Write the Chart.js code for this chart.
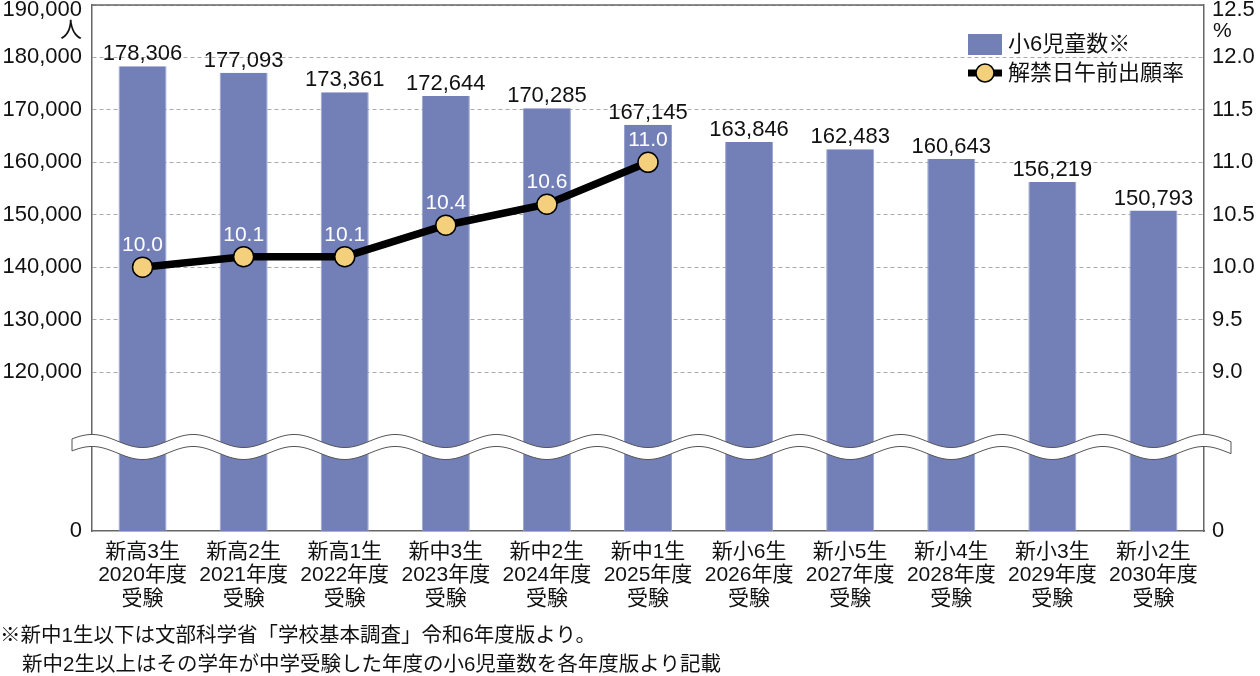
<!DOCTYPE html>
<html lang="ja">
<head>
<meta charset="UTF-8">
<title>小6児童数と解禁日午前出願率</title>
<script src="https://cdn.jsdelivr.net/npm/chart.js"></script>
<style>
  html, body { margin: 0; padding: 0; background: #fff; }
  body { width: 1260px; height: 676px; position: relative; overflow: hidden;
         font-family: 'Liberation Sans', 'Noto Sans CJK JP', sans-serif; color: #111; }
  #wrap { position: absolute; left: 0; top: 0; width: 1260px; height: 676px; }
  .abs { position: absolute; white-space: nowrap; line-height: 1; }
</style>
</head>
<body>
<div id="wrap"><canvas id="myChart" width="1260" height="676"></canvas></div>

<!-- 単位 -->
<div class="abs" style="right:1178px; top:19px; font-size:22px;">人</div>
<div class="abs" style="left:1213px; top:19px; font-size:21px;">%</div>

<!-- 凡例 -->
<div class="abs" style="left:968px; top:34px; width:34px; height:21px; background:#7380b8;"></div>
<div class="abs" style="left:1008px; top:33px; font-size:22px;">小6児童数※</div>
<svg class="abs" style="left:966px; top:62px;" width="40" height="22">
  <line x1="2" y1="11" x2="36" y2="11" stroke="#000" stroke-width="7"/>
  <circle cx="19" cy="11" r="9" fill="#f4d07c" stroke="#000" stroke-width="1.5"/>
</svg>
<div class="abs" style="left:1008px; top:62px; font-size:22px;">解禁日午前出願率</div>

<!-- 注記 -->
<div class="abs" style="left:0; top:625px; font-size:20.5px;">※新中1生以下は文部科学省「学校基本調査」令和6年度版より。</div>
<div class="abs" style="left:22px; top:654px; font-size:20.5px;">新中2生以上はその学年が中学受験した年度の小6児童数を各年度版より記載</div>

<script>
// データ
const grades = ['新高3生', '新高2生', '新高1生', '新中3生', '新中2生', '新中1生', '新小6生', '新小5生', '新小4生', '新小3生', '新小2生'];
const years = [2020, 2021, 2022, 2023, 2024, 2025, 2026, 2027, 2028, 2029, 2030];
const children = [178306, 177093, 173361, 172644, 170285, 167145, 163846, 162483, 160643, 156219, 150793];
const rate = [10.0, 10.1, 10.1, 10.4, 10.6, 11.0, null, null, null, null, null];
const leftTicks = [120000, 130000, 140000, 150000, 160000, 170000, 180000, 190000];
const rightTicks = [9.0, 9.5, 10.0, 10.5, 11.0, 11.5, 12.0, 12.5];

// 軸の省略(0〜約9万を詰める)
const leftMin = 89674, leftMax = 190000;
const rightMin = 7.484, rightMax = 12.5;

const FONT = "'Liberation Sans', 'Noto Sans CJK JP', sans-serif";
const labels = grades.map((g, i) => [g, years[i] + '年度', '受験']);

// 一番上の目盛ラベルが切れないよう少し下げる
const topLabelPlugin = {
  id: 'topLabel',
  beforeDraw(chart) {
    ['y', 'y1'].forEach(id => {
      const items = chart.scales[id].getLabelItems(chart.chartArea);
      items.forEach(it => {
        const t = it.options.translation;
        if (t[1] < 10) t[1] = 10;
      });
    });
  }
};

// 波線(省略記号)
const wavePlugin = {
  id: 'wave',
  beforeDatasetsDraw(chart) {
    const { ctx, chartArea } = chart;
    ctx.save();
    ctx.strokeStyle = '#666';
    ctx.lineWidth = 1.5;
    ctx.beginPath();
    ctx.moveTo(chartArea.left, chartArea.top);
    ctx.lineTo(chartArea.right, chartArea.top);
    ctx.stroke();
    ctx.restore();
  },
  afterDatasetsDraw(chart) {
    const { ctx, scales: { x } } = chart;
    const x0 = x.getPixelForValue(0);
    const step = x.getPixelForValue(1) - x0;
    const left = 72, right = 1231, mid = 441, amp = 6.5, gap = 12;
    const wy = (px, off) => mid + off + amp * Math.cos(2 * Math.PI * (px - x0) / step);
    ctx.save();
    ctx.beginPath();
    for (let px = left; px <= right; px++) {
      const y = wy(px, 0);
      if (px === left) ctx.moveTo(px, y); else ctx.lineTo(px, y);
    }
    for (let px = right; px >= left; px--) ctx.lineTo(px, wy(px, gap));
    ctx.closePath();
    ctx.fillStyle = '#fff';
    ctx.fill();
    ctx.strokeStyle = '#555';
    ctx.lineWidth = 1;
    ctx.stroke();
    ctx.restore();
  }
};

// 数値ラベル
const labelPlugin = {
  id: 'valueLabels',
  afterDatasetsDraw(chart) {
    const ctx = chart.ctx;
    ctx.save();
    ctx.textAlign = 'center';
    ctx.textBaseline = 'alphabetic';
    ctx.font = '22px ' + FONT;
    const bars = chart.getDatasetMeta(1);
    ctx.fillStyle = '#111';
    bars.data.forEach((el, i) => {
      ctx.fillText(children[i].toLocaleString('en-US'), el.x, el.y - 6);
    });
    ctx.font = '21px ' + FONT;
    const pts = chart.getDatasetMeta(0);
    ctx.fillStyle = '#fff';
    pts.data.forEach((el, i) => {
      if (rate[i] == null) return;
      ctx.fillText(rate[i].toFixed(1), el.x, el.y - 16);
    });
    ctx.restore();
  }
};

const ctx = document.getElementById('myChart').getContext('2d');
const myChart = new Chart(ctx, {
  data: {
    labels: labels,
    datasets: [
      {
        type: 'line',
        label: '解禁日午前出願率',
        data: rate,
        yAxisID: 'y1',
        order: 0,
        borderColor: '#000',
        borderWidth: 7.5,
        pointRadius: 10,
        pointHoverRadius: 10,
        pointBackgroundColor: '#f4d07c',
        pointBorderColor: '#000',
        pointBorderWidth: 1.5,
        tension: 0,
        spanGaps: false
      },
      {
        type: 'bar',
        label: '小6児童数※',
        data: children,
        yAxisID: 'y',
        order: 1,
        backgroundColor: '#7380b8',
        borderColor: '#9aa3cf',
        borderWidth: { left: 1, right: 1, top: 0, bottom: 0 },
        barPercentage: 0.475,
        categoryPercentage: 1.0
      }
    ]
  },
  options: {
    responsive: false,
    animation: false,
    events: [],
    layout: { autoPadding: false, padding: { top: 5, left: 0, right: 0, bottom: 0 } },
    plugins: {
      legend: { display: false },
      tooltip: { enabled: false }
    },
    scales: {
      x: {
        offset: true,
        grid: { display: false, drawTicks: false },
        border: { display: true, color: '#666', width: 1.5 },
        ticks: {
          color: '#111',
          padding: 10,
          maxRotation: 0,
          autoSkip: false,
          font: { family: FONT, size: 21, lineHeight: 1.1 }
        },
        afterFit(scale) {
          scale.height = 145;
          scale.paddingLeft = 0;
          scale.paddingRight = 0;
        }
      },
      y: {
        position: 'left',
        min: leftMin,
        max: leftMax,
        afterBuildTicks(scale) {
          scale.ticks = [leftMin].concat(leftTicks).map(v => ({ value: v }));
        },
        grid: {
          drawTicks: false,
          color: c => (c.tick && c.tick.value === leftMin) ? 'rgba(0,0,0,0)' : '#aaa',
          lineWidth: 1
        },
        border: { display: true, color: '#666', width: 1.5, dash: [4, 3] },
        ticks: {
          color: '#111',
          padding: 10,
          font: { family: FONT, size: 22 },
          callback: v => v === leftMin ? '0' : Number(v).toLocaleString('en-US')
        },
        afterFit(scale) {
          scale.width = 92;
          scale.paddingTop = 0;
          scale.paddingBottom = 0;
        }
      },
      y1: {
        position: 'right',
        min: rightMin,
        max: rightMax,
        afterBuildTicks(scale) {
          scale.ticks = [rightMin].concat(rightTicks).map(v => ({ value: v }));
        },
        grid: { drawOnChartArea: false, drawTicks: false },
        border: { display: true, color: '#666', width: 1.5 },
        ticks: {
          color: '#111',
          padding: 8,
          font: { family: FONT, size: 22 },
          callback: v => v === rightMin ? '0' : Number(v).toFixed(1)
        },
        afterFit(scale) {
          scale.width = 56;
          scale.paddingTop = 0;
          scale.paddingBottom = 0;
        }
      }
    }
  },
  plugins: [topLabelPlugin, wavePlugin, labelPlugin]
});
</script>
</body>
</html>
